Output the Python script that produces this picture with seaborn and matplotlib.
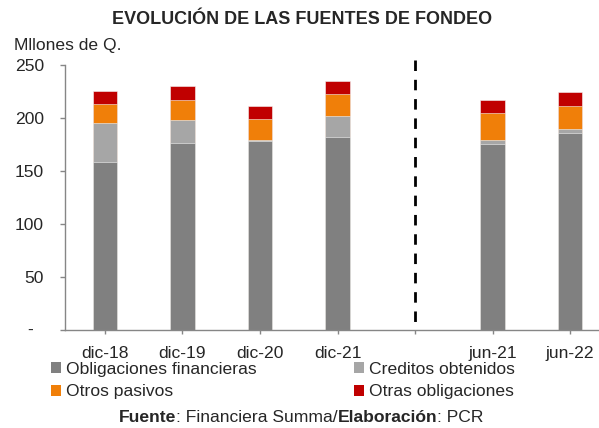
import matplotlib
matplotlib.use("Agg")
import matplotlib.pyplot as plt
import matplotlib.transforms as mtransforms
from matplotlib.patches import Patch
import seaborn as sns
import pandas as pd

# ---- data (millones de Q.) ----
periods = ["dic-18", "dic-19", "dic-20", "dic-21", "jun-21", "jun-22"]
order = ["dic-18", "dic-19", "dic-20", "dic-21", "", "jun-21", "jun-22"]
obligaciones_financieras = [158.1, 176.2, 178.1, 182.5, 175.3, 185.6]
creditos_obtenidos = [37.6, 22.3, 0.7, 19.8, 4.1, 4.2]
otros_pasivos = [17.6, 18.9, 20.4, 20.4, 25.4, 21.9]
otras_obligaciones = [11.9, 13.1, 12.2, 12.5, 12.6, 12.5]
series_names = ["Obligaciones financieras", "Creditos obtenidos",
                "Otros pasivos", "Otras obligaciones"]
series_colors = ["#808080", "#A6A6A6", "#F07F09", "#C00000"]
yticks = [0, 50, 100, 150, 200, 250]
ytick_labels = ["", "50", "100", "150", "200", "250"]
separator_category = ""

sns.set_style("white")
plt.rcParams["font.family"] = ["Liberation Sans", "DejaVu Sans"]
FS = 12.6

W, H = 599, 428
fig = plt.figure(figsize=(W / 100, H / 100), dpi=100)
ax_left, ax_right, ax_top, ax_bottom = 65, 599, 65, 330
ax = fig.add_axes([ax_left / W, 1 - ax_bottom / H,
                   (ax_right - ax_left) / W, (ax_bottom - ax_top) / H])

df = pd.DataFrame({
    "periodo": periods,
    series_names[0]: obligaciones_financieras,
    series_names[1]: creditos_obtenidos,
    series_names[2]: otros_pasivos,
    series_names[3]: otras_obligaciones,
})
# cumulative stacks, drawn from the top layer down
cum = df[series_names].cumsum(axis=1)
for name, color in reversed(list(zip(series_names, series_colors))):
    sns.barplot(x=df["periodo"], y=cum[name], order=order, color=color,
                saturation=1, width=0.31, edgecolor="#f4f4f4", linewidth=0.4,
                ax=ax, errorbar=None)

ax.set_xlim(-0.516, 6.374)
ax.set_ylim(0, 250)
ax.set_xlabel("")
ax.set_ylabel("")

# dashed separator
sep_x = order.index(separator_category)
ax.plot([sep_x, sep_x], [254.5, 0], color="black", lw=2,
        dashes=(3.78, 3.17), clip_on=False, solid_capstyle="butt",
        dash_capstyle="butt")

# axes styling
for s in ["top", "right"]:
    ax.spines[s].set_visible(False)
for s in ["left", "bottom"]:
    ax.spines[s].set_color("#868686")
    ax.spines[s].set_linewidth(1.0)
ax.set_yticks(yticks)
ax.set_yticklabels(ytick_labels)
ax.set_xticks(range(len(order)))
ax.set_xticklabels(order)
ax.tick_params(axis="y", direction="out", length=3.6, width=1.0,
               color="#868686", labelsize=FS, pad=11.5, left=True)
ax.tick_params(axis="x", direction="out", length=3.0, width=1.0,
               color="#868686", labelsize=FS, pad=8.2, bottom=True)
# zero label shown as dash (accounting style)
ax.text(-0.06, 0, "-", transform=mtransforms.blended_transform_factory(ax.transAxes, ax.transData),
        ha="right", va="center", fontsize=FS)

# titles
fig.text(302 / W, 1 - 24.3 / H, "EVOLUCIÓN DE LAS FUENTES DE FONDEO",
         ha="center", va="baseline", fontsize=13, fontweight="bold")
fig.text(14 / W, 1 - 50 / H, "Mllones de Q.", ha="left", va="baseline",
         fontsize=FS)

# legend (column-major fill -> pass in order to get rows)
handles = [Patch(facecolor=c, edgecolor="none") for c in series_colors]
leg_order = [0, 2, 1, 3]
fig.legend([handles[i] for i in leg_order], [series_names[i] for i in leg_order],
           ncol=2, loc="upper left", bbox_to_anchor=(51 / W, 1 - 362 / H),
           frameon=False, fontsize=FS, handlelength=0.58, handleheight=0.58,
           handletextpad=0.25, columnspacing=5.6, labelspacing=0.42,
           borderpad=0, borderaxespad=0)

# footer with mixed weights
parts = [("Fuente", "bold"), (": Financiera Summa/", "normal"),
         ("Elaboración", "bold"), (": PCR", "normal")]
renderer = fig.canvas.get_renderer()
texts = []
widths = []
for s, w in parts:
    t = fig.text(0, 1 - 421.7 / H, s, fontsize=FS, fontweight=w,
                 ha="left", va="baseline")
    texts.append(t)
    widths.append(t.get_window_extent(renderer).width)
total = sum(widths)
x = 301 - total / 2
for t, wd in zip(texts, widths):
    t.set_x(x / W)
    x += wd

fig.savefig("out.png", dpi=100)
